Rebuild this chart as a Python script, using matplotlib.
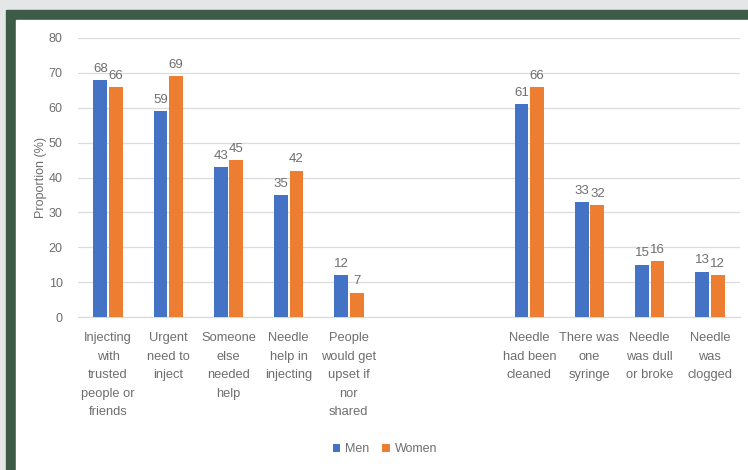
import matplotlib.pyplot as plt
import matplotlib.patches as mpatches
import numpy as np

plt.rcParams['font.family'] = ['Liberation Sans', 'DejaVu Sans']

# categories (two empty slots separate the two groups)
categories = ['Injecting\nwith\ntrusted\npeople or\nfriends', 'Urgent\nneed to\ninject',
              'Someone\nelse\nneeded\nhelp', 'Needle\nhelp in\ninjecting',
              'People\nwould get\nupset if\nnor\nshared', '', '',
              'Needle\nhad been\ncleaned', 'There was\none\nsyringe',
              'Needle\nwas dull\nor broke', 'Needle\nwas\nclogged']
men = [68, 59, 43, 35, 12, np.nan, np.nan, 61, 33, 15, 13]
women = [66, 69, 45, 42, 7, np.nan, np.nan, 66, 32, 16, 12]

blue = '#4472C4'
orange = '#ED7D31'
txt = '#6e6e6e'

fig = plt.figure(figsize=(7.48, 4.70), dpi=100)
fig.patch.set_facecolor('white')
# frame around the chart
fig.patches.append(mpatches.Rectangle((0, 0), 1, 1, transform=fig.transFigure,
                                      color='#e4e6e8', zorder=-3))
fig.patches.append(mpatches.Rectangle((6 / 748, 0), 1, 1 - 10 / 470, transform=fig.transFigure,
                                      color='#3e5b47', zorder=-2))
fig.patches.append(mpatches.Rectangle((16 / 748, 0), 1, 1 - 20 / 470, transform=fig.transFigure,
                                      color='white', zorder=-1))

ax = fig.add_axes([78 / 748, 1 - 317 / 470, 662 / 748, (317 - 38) / 470])
ax.set_facecolor('none')

x = np.arange(len(categories))
w = 0.23
b1 = ax.bar(x - w / 2 - 0.015, men, w, color=blue, label='Men', zorder=3)
b2 = ax.bar(x + w / 2 + 0.015, women, w, color=orange, label='Women', zorder=3)

for bars, vals in ((b1, men), (b2, women)):
    for r, v in zip(bars, vals):
        if np.isnan(v):
            continue
        ax.text(r.get_x() + r.get_width() / 2, v + 1.5, f'{v:.0f}', ha='center', va='bottom',
                fontsize=9.5, color=txt)

ax.set_xlim(-0.5, len(categories) - 0.5)
ax.set_ylim(0, 80)
ax.set_yticks(range(0, 81, 10))
ax.set_xticks(x)
ax.set_xticklabels(categories, fontsize=9.3, color=txt, linespacing=1.72, va='top')
ax.tick_params(axis='y', labelsize=9)
ax.tick_params(axis='both', length=0, colors=txt)
ax.tick_params(axis='x', pad=11)
ax.tick_params(axis='y', pad=11)
ax.grid(axis='y', color='#dcdcdc', linewidth=0.9, zorder=0)
for s in ['top', 'right', 'left']:
    ax.spines[s].set_visible(False)
ax.spines['bottom'].set_color('#d9d9d9')
ax.set_ylabel('Proportion (%)', fontsize=9, color=txt, labelpad=1)

fig.legend(handles=[b1, b2], loc='center', bbox_to_anchor=(385 / 748, 1 - 449 / 470), ncol=2,
           frameon=False, fontsize=9, labelcolor=txt, handlelength=0.6, handleheight=0.6,
           handletextpad=0.4, columnspacing=1.0)

fig.savefig('out.png', dpi=100)
